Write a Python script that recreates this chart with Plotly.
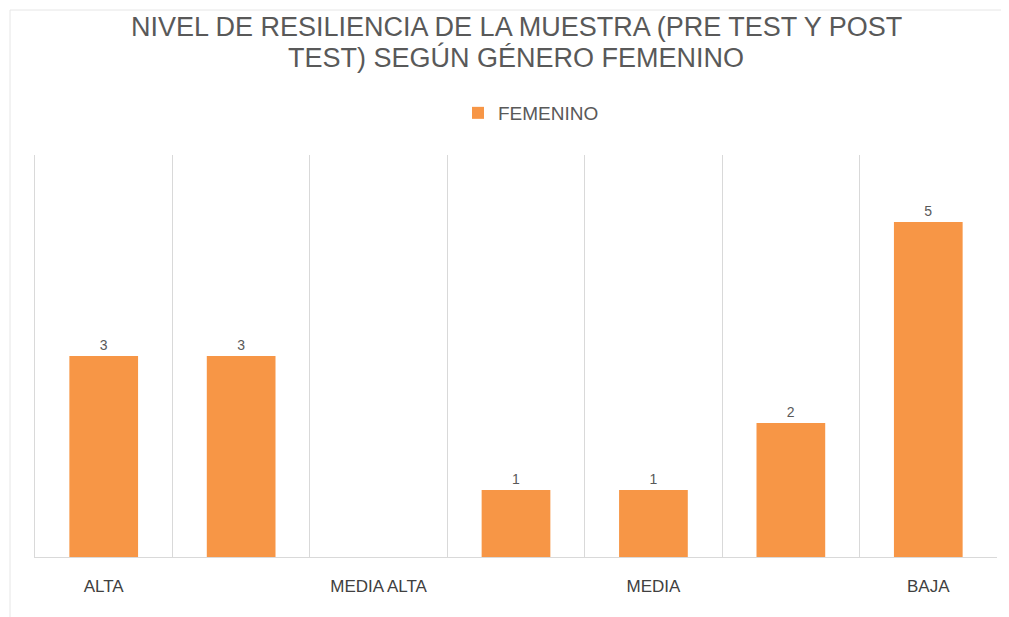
import plotly.graph_objects as go

# categories (one slot per bar; only every second slot carries a label)
posiciones = [0, 1, 2, 3, 4, 5, 6]
femenino = [3, 3, 0, 1, 1, 2, 5]
etiquetas_pos = [0, 2, 4, 6]
etiquetas = ["ALTA", "MEDIA ALTA", "MEDIA", "BAJA"]
bordes = [-0.5, 0.5, 1.5, 2.5, 3.5, 4.5, 5.5]
titulo = ["NIVEL DE RESILIENCIA DE LA MUESTRA (PRE TEST Y POST",
          "TEST) SEGÚN GÉNERO FEMENINO"]

naranja = "#F79646"
gris_txt = "#595959"
gris_linea = "#D9D9D9"
fuente = "Liberation Sans"

# the page adds an 8px offset, so the figure is a bit smaller than the window
W, H = 1001, 609
L, R, T, B = 27, 12, 147, 60
alto = H - T - B
ancho = W - L - R


def py(y_pix):
    # screen pixel row -> paper y
    return (557 - y_pix) / alto


def px(x_pix):
    return (x_pix - 35) / ancho


fig = go.Figure()

fig.add_trace(go.Bar(
    x=posiciones,
    y=femenino,
    name="FEMENINO",
    marker=dict(color=naranja, line=dict(width=0)),
    width=0.5,
    text=[str(v) if v > 0 else "" for v in femenino],
    textposition="outside",
    textfont=dict(size=14, color=gris_txt, family=fuente),
    cliponaxis=False,
))

fig.update_layout(
    width=W, height=H,
    margin=dict(l=L, r=R, t=T, b=B),
    paper_bgcolor="white",
    plot_bgcolor="white",
    font=dict(family=fuente, color=gris_txt),
    showlegend=True,
    legend=dict(
        orientation="h",
        x=px(458), xanchor="left",
        y=py(113), yanchor="middle",
        font=dict(size=19, color=gris_txt, family=fuente),
    ),
    xaxis=dict(
        range=[-0.5, 6.5],
        tickmode="array",
        tickvals=etiquetas_pos,
        ticktext=etiquetas,
        showgrid=False,
        ticks="",
        ticklabelstandoff=14,
        tickfont=dict(size=17, color="#404040", family=fuente),
        showline=True,
        linecolor=gris_linea,
        linewidth=1,
        zeroline=False,
        minor=dict(tickvals=bordes, showgrid=True, gridcolor=gris_linea, gridwidth=1, ticks=""),
    ),
    yaxis=dict(
        range=[0, 6],
        showgrid=False,
        zeroline=False,
        showticklabels=False,
        ticks="",
        showline=True,
        linecolor=gris_linea,
        linewidth=1,
    ),
    bargap=0.5,
)

# two-line title
for linea, yc in zip(titulo, [27, 58]):
    fig.add_annotation(
        text=linea, xref="paper", yref="paper", x=0.5, y=py(yc),
        xanchor="center", yanchor="middle", showarrow=False,
        font=dict(size=27, color=gris_txt, family=fuente),
    )

# faint chart-area border (left and top edges)
x0 = px(10)
y_top = py(10)
fig.add_shape(type="line", xref="paper", yref="paper", x0=x0, x1=x0, y0=py(617), y1=y_top,
              line=dict(color="#E6E6E6", width=1))
fig.add_shape(type="line", xref="paper", yref="paper", x0=x0, x1=px(1009), y0=y_top, y1=y_top,
              line=dict(color="#E6E6E6", width=1))

fig.write_html("out.html")
